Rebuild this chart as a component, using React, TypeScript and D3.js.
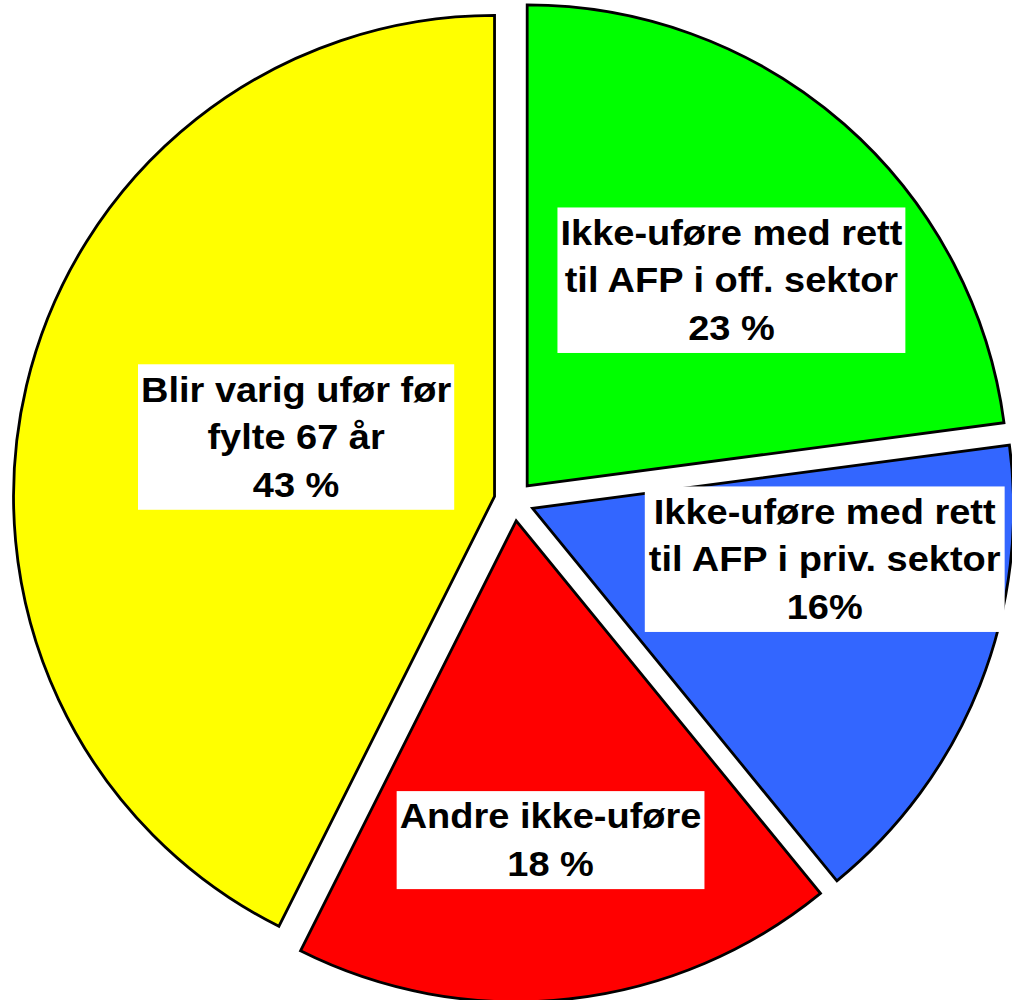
import React from "react";
import * as d3 from "d3";

// ---- data ----
const categories: string[][] = [
  ["Ikke-uføre med rett", "til AFP i off. sektor"],
  ["Ikke-uføre med rett", "til AFP i priv. sektor"],
  ["Andre ikke-uføre"],
  ["Blir varig ufør før", "fylte 67 år"],
];
// slice sizes (labels show rounded values)
const values: number[] = [22.9, 16.2, 18.3, 42.6];
const valueLabels: string[] = ["23 %", "16%", "18 %", "43 %"];
const colors: string[] = ["#00FF00", "#3366FF", "#FF0000", "#FFFF00"];

// ---- layout ----
const W = 1012;
const H = 1000;
const CX = 514;
const CY = 501;
const R = 481;
const EXPLODE = 20;
// label centres relative to pie centre, in units of radius
const labelOffsets: [number, number][] = [
  [0.452, -0.459],
  [0.646, 0.121],
  [0.076, 0.705],
  [-0.453, -0.133],
];
const FONT_SIZE = 36;
const X_STRETCH = 1.055;
const LINE_H = 47.5;
const FONT = "'Liberation Sans', Arial, sans-serif";

function measure(text: string): number {
  const c = document.createElement("canvas");
  const ctx = c.getContext("2d");
  if (!ctx) return text.length * FONT_SIZE * 0.55;
  ctx.font = `bold ${FONT_SIZE}px ${FONT}`;
  return ctx.measureText(text).width;
}

export default function App() {
  const pie = d3
    .pie<number>()
    .sort(null)
    .value((d) => d)
    .startAngle(0)
    .endAngle(2 * Math.PI);
  const arcs = pie(values);
  const arcGen = d3.arc<d3.PieArcDatum<number>>().innerRadius(0).outerRadius(R);

  return (
    <svg
      width={W}
      height={H}
      style={{ position: "absolute", left: 0, top: 0, background: "#fff" }}
    >
      <g transform={`translate(${CX},${CY})`}>
        {arcs.map((a, i) => {
          const mid = (a.startAngle + a.endAngle) / 2;
          const dx = Math.sin(mid) * EXPLODE;
          const dy = -Math.cos(mid) * EXPLODE;
          return (
            <path
              key={i}
              d={arcGen(a) || ""}
              transform={`translate(${dx},${dy})`}
              fill={colors[i]}
              stroke="#000"
              strokeWidth={2.8}
              strokeLinejoin="miter"
            />
          );
        })}
        {arcs.map((a, i) => {
          const lines = [...categories[i], valueLabels[i]];
          const lx = labelOffsets[i][0] * R;
          const ly = labelOffsets[i][1] * R;
          const maxW = Math.max(...lines.map(measure)) * X_STRETCH;
          const bw = maxW + 6;
          const bh = lines.length * LINE_H + 3;
          const n = lines.length;
          return (
            <g key={"l" + i} transform={`translate(${lx},${ly})`}>
              <rect x={-bw / 2} y={-bh / 2} width={bw} height={bh} fill="#fff" />
              <g transform={`scale(${X_STRETCH},1)`}>
                {lines.map((t, j) => (
                  <text
                    key={j}
                    x={0}
                    y={(j - (n - 1) / 2) * LINE_H + 12}
                    textAnchor="middle"
                    fontFamily={FONT}
                    fontWeight="bold"
                    fontSize={FONT_SIZE}
                    fill="#000"
                  >
                    {t}
                  </text>
                ))}
              </g>
            </g>
          );
        })}
      </g>
    </svg>
  );
}
